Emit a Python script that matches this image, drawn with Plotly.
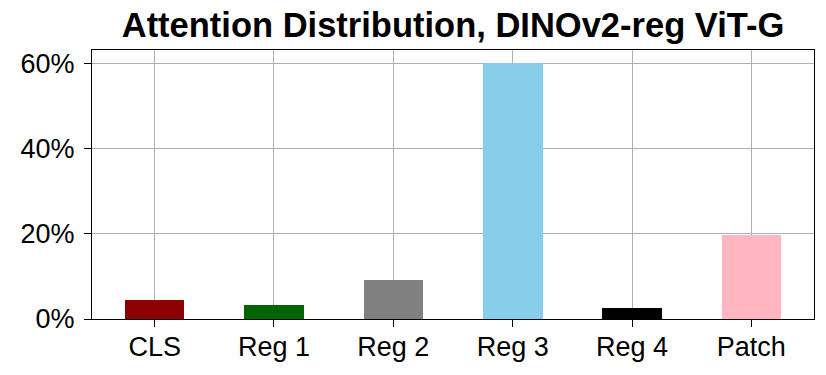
import plotly.graph_objects as go

categories = ["CLS", "Reg 1", "Reg 2", "Reg 3", "Reg 4", "Patch"]
attention = [0.044, 0.034, 0.092, 0.601, 0.027, 0.198]
bar_colors = ["#8B0000", "#006400", "#808080", "#87CEEB", "#000000", "#FFB6C1"]
y_ticks = [0, 0.2, 0.4, 0.6]
y_tick_labels = ["0%", "20%", "40%", "60%"]
title_text = "Attention Distribution, DINOv2-reg ViT-G"

fig = go.Figure(
    go.Bar(
        x=list(range(len(categories))),
        y=attention,
        width=0.5,
        marker=dict(color=bar_colors, line=dict(width=0)),
    )
)

font_family = "Liberation Sans, Arial, sans-serif"
fig.update_layout(
    width=826,
    height=375,
    margin=dict(l=92, r=12, t=50, b=56),
    paper_bgcolor="white",
    plot_bgcolor="white",
    font=dict(family=font_family, color="black", size=27),
    showlegend=False,
    title=dict(
        text=f"<b>{title_text}</b>",
        font=dict(family=font_family, size=34.5, color="black"),
        x=0.5 * (92 + 814) / 826,
        xanchor="center",
        xref="container",
        yref="container",
        y=(375 - 25) / 375,
        yanchor="middle",
    ),
    bargap=0,
)
fig.update_xaxes(
    range=[-0.525, 5.525],
    tickmode="array",
    tickvals=list(range(len(categories))),
    ticktext=categories,
    showgrid=True,
    gridcolor="#b0b0b0",
    gridwidth=1,
    showline=True,
    linecolor="black",
    linewidth=1.3,
    mirror=True,
    ticks="outside",
    ticklen=7,
    tickwidth=1.3,
    tickcolor="black",
    tickfont=dict(size=27),
    ticklabelstandoff=-4,
    zeroline=False,
)
fig.update_yaxes(
    range=[0, 0.632],
    tickmode="array",
    tickvals=y_ticks,
    ticktext=y_tick_labels,
    showgrid=True,
    gridcolor="#b0b0b0",
    gridwidth=1,
    showline=True,
    linecolor="black",
    linewidth=1.3,
    mirror=True,
    ticks="outside",
    ticklen=7,
    tickwidth=1.3,
    tickcolor="black",
    tickfont=dict(size=27),
    ticklabelstandoff=4,
    zeroline=False,
)

fig.write_html(
    "out.html",
    config={"displayModeBar": False},
    post_script="document.body.style.margin='0';",
)
